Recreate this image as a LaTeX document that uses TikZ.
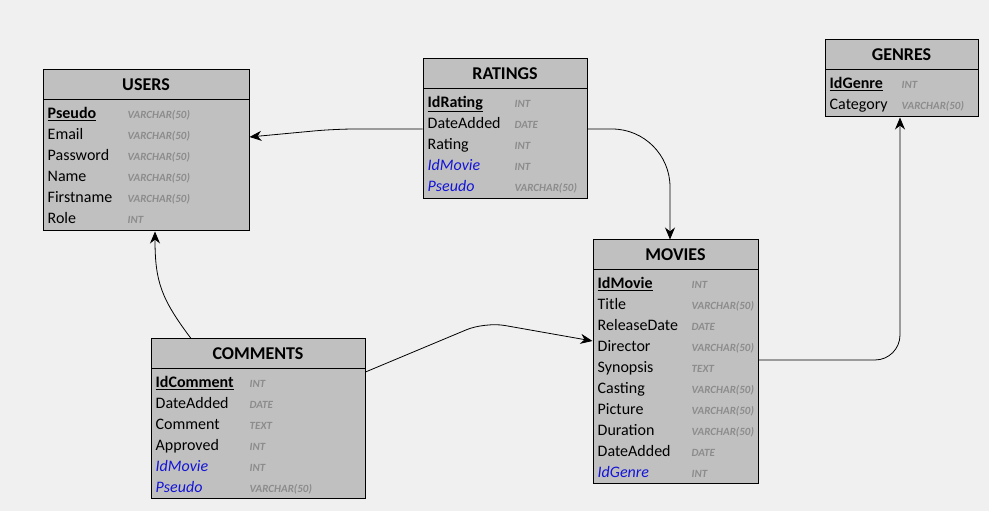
\documentclass[tikz,border=0pt]{standalone}
\usepackage{fontspec}
\setmainfont{Carlito}
\usetikzlibrary{positioning,arrows.meta}
\definecolor{tablegray}{RGB}{192,192,192}
\definecolor{bggray}{RGB}{240,240,240}
\definecolor{fkblue}{RGB}{20,20,215}
\definecolor{typegray}{RGB}{140,140,140}
\newcommand{\pk}[1]{\textbf{\underline{#1}}}
\newcommand{\fk}[1]{\textcolor{fkblue}{\itshape #1}}
\newcommand{\ty}[1]{{\fontsize{11}{13}\selectfont\bfseries\itshape\color{typegray}#1}}

\begin{document}
\begin{tikzpicture}[x=1pt, y=1pt, >={Stealth[length=12pt,width=10pt]}]
    \tikzstyle{frame} = [rectangle, draw=black, line width=1pt, fill=tablegray, inner sep=0pt]
    \tikzstyle{head} = [rectangle, draw=black, line width=1pt, minimum height=30pt, inner sep=0pt, anchor=north, font=\fontsize{18}{22}\selectfont\bfseries]
    \tikzstyle{fields} = [anchor=north west, inner sep=0pt, font=\fontsize{16}{21}\selectfont]
    \tikzstyle{link} = [->, line width=0.8pt, rounded corners=20pt]

    % Background
    \fill [bggray] (0,0) rectangle (989,511);
    \useasboundingbox (0,0) rectangle (989,511);

    % Users
    \node [frame, minimum width=206pt, minimum height=161pt] (users) at (146,360.5) {};
    \node [head, minimum width=206pt] (users_head) at (users.north) {USERS};
    \node [fields] (users_fields) at ([xshift=5pt,yshift=-2.8pt]users_head.south west) {%
        \begin{tabular}{@{}p{80pt}@{}l@{}}
        \pk{Pseudo} & \ty{VARCHAR(50)} \\
        Email & \ty{VARCHAR(50)} \\
        Password & \ty{VARCHAR(50)} \\
        Name & \ty{VARCHAR(50)} \\
        Firstname & \ty{VARCHAR(50)} \\
        Role & \ty{INT}
        \end{tabular}};

    % Ratings
    \node [frame, minimum width=164pt, minimum height=140pt] (ratings) at (505,382) {};
    \node [head, minimum width=164pt] (ratings_head) at (ratings.north) {RATINGS};
    \node [fields] (ratings_fields) at ([xshift=5pt,yshift=-2.8pt]ratings_head.south west) {%
        \begin{tabular}{@{}p{87pt}@{}l@{}}
        \pk{IdRating} & \ty{INT} \\
        DateAdded & \ty{DATE} \\
        Rating & \ty{INT} \\
        \fk{IdMovie} & \ty{INT} \\
        \fk{Pseudo} & \ty{VARCHAR(50)}
        \end{tabular}};

    % Genres
    \node [frame, minimum width=153pt, minimum height=77pt] (genres) at (901.5,432.5) {};
    \node [head, minimum width=153pt] (genres_head) at (genres.north) {GENRES};
    \node [fields] (genres_fields) at ([xshift=5pt,yshift=-2.8pt]genres_head.south west) {%
        \begin{tabular}{@{}p{72pt}@{}l@{}}
        \pk{IdGenre} & \ty{INT} \\
        Category & \ty{VARCHAR(50)}
        \end{tabular}};

    % Movies
    \node [frame, minimum width=165pt, minimum height=244pt] (movies) at (675.5,149) {};
    \node [head, minimum width=165pt] (movies_head) at (movies.north) {MOVIES};
    \node [fields] (movies_fields) at ([xshift=5pt,yshift=-2.8pt]movies_head.south west) {%
        \begin{tabular}{@{}p{94pt}@{}l@{}}
        \pk{IdMovie} & \ty{INT} \\
        Title & \ty{VARCHAR(50)} \\
        ReleaseDate & \ty{DATE} \\
        Director & \ty{VARCHAR(50)} \\
        Synopsis & \ty{TEXT} \\
        Casting & \ty{VARCHAR(50)} \\
        Picture & \ty{VARCHAR(50)} \\
        Duration & \ty{VARCHAR(50)} \\
        DateAdded & \ty{DATE} \\
        \fk{IdGenre} & \ty{INT}
        \end{tabular}};

    % Comments
    \node [frame, minimum width=214pt, minimum height=160pt] (comments) at (258,92) {};
    \node [head, minimum width=214pt] (comments_head) at (comments.north) {COMMENTS};
    \node [fields] (comments_fields) at ([xshift=5pt,yshift=-2.8pt]comments_head.south west) {%
        \begin{tabular}{@{}p{94pt}@{}l@{}}
        \pk{IdComment} & \ty{INT} \\
        DateAdded & \ty{DATE} \\
        Comment & \ty{TEXT} \\
        Approved & \ty{INT} \\
        \fk{IdMovie} & \ty{INT} \\
        \fk{Pseudo} & \ty{VARCHAR(50)}
        \end{tabular}};

    % Connections
    \draw [link] (ratings.west) -- (335,382) -- ([yshift=13.5pt]users.east);
    \draw [link, rounded corners=58pt] (ratings.east) -| ([xshift=-5.5pt]movies.north);
    \draw [link, rounded corners=25pt] ([yshift=2pt]movies.east) -| ([xshift=-1.5pt]genres.south);
    \draw [->, line width=0.8pt] ([xshift=-67pt]comments.north) .. controls +(-30,40) and +(0,-50) .. ([xshift=9pt]users.south);
    \draw [link] ([yshift=47pt]comments.east) -- (485,189) -- ([yshift=21pt]movies.west);
\end{tikzpicture}
\end{document}
